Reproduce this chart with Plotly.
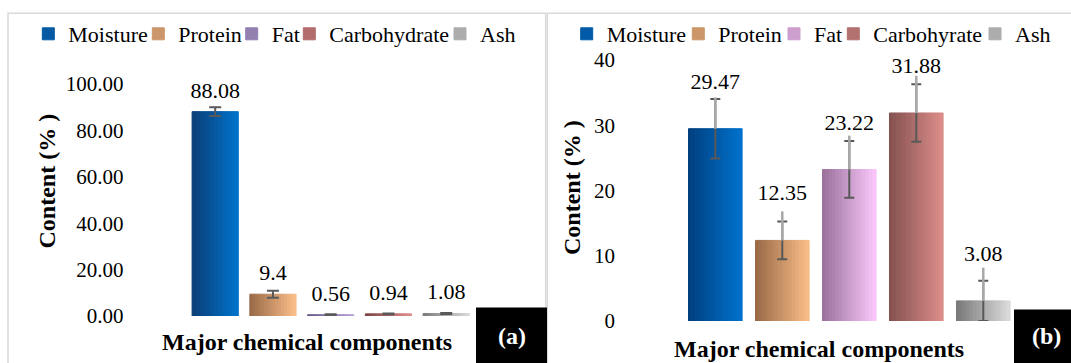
import plotly.graph_objects as go

W, H = 1071, 363

# ---------------- data ----------------
category = ["Major chemical components"]

components_a = ["Moisture", "Protein", "Fat", "Carbohydrate", "Ash"]
values_a = [88.08, 9.4, 0.56, 0.94, 1.08]
sd_a = [1.9, 1.5, 0.15, 0.15, 0.2]
labels_a = ["88.08", "9.4", "0.56", "0.94", "1.08"]
yticks_a = [0, 20, 40, 60, 80, 100]

components_b = ["Moisture", "Protein", "Fat", "Carbohyrate", "Ash"]
values_b = [29.47, 12.35, 23.22, 31.88, 3.08]
sd_b = [4.55, 2.9, 4.35, 4.4, 3.08]
sd_b_light_plus = [4.8, 4.45, 5.2, 5.7, 5.1]
labels_b = ["29.47", "12.35", "23.22", "31.88", "3.08"]
yticks_b = [0, 10, 20, 30, 40]

# ---------------- styles ----------------
grad_a = [("#0b3d75", "#0073cc"), ("#986846", "#fbbf8a"), ("#675885", "#b9a3d8"),
          ("#7a4545", "#e28e8c"), ("#7a7a7a", "#dadada")]
grad_b = [("#003e7e", "#0072cc"), ("#986846", "#fabe88"), ("#98709a", "#fcc8fc"),
          ("#83504e", "#dc8e8a"), ("#777777", "#dcdcdc")]
legend_text_x_a = [68.3, 178.3, 271.7, 329.3, 480.0]
legend_text_x_b = [606.7, 718.3, 814.0, 873.3, 1015.0]
N_SUB = 16      # colour steps used to imitate the horizontal gradient fill
N_SPACE = 2     # empty slots on each side of a bar (gap between bars)
FONT = "Liberation Serif"
ERR_DARK = "#595959"
ERR_LIGHT = "#a8a8a8"


def hex2rgb(h):
    h = h.lstrip("#")
    return tuple(int(h[i:i + 2], 16) for i in (0, 2, 4))


def mix(c0, c1, t):
    a, b = hex2rgb(c0), hex2rgb(c1)
    return "rgb(%d,%d,%d)" % tuple(round(a[i] + (b[i] - a[i]) * t) for i in range(3))


fig = go.Figure()
CLEAR = "rgba(0,0,0,0)"
NOLINE = dict(width=0)


def add_spacer(xa, ya):
    fig.add_trace(go.Bar(x=category, y=[0], marker=dict(color=CLEAR, line=NOLINE),
                         showlegend=False, hoverinfo="skip", xaxis=xa, yaxis=ya))


def add_gradient(names, values, grads, xa, ya, legend_ids):
    for i, (name, v) in enumerate(zip(names, values)):
        c0, c1 = grads[i]
        for _ in range(N_SPACE):
            add_spacer(xa, ya)
        for k in range(N_SUB):
            col = mix(c0, c1, (k + 0.5) / N_SUB)
            fig.add_trace(go.Bar(
                x=category, y=[v], name=name, legend=legend_ids[i],
                showlegend=(k == N_SUB // 2),
                marker=dict(color=col, line=dict(color=col, width=1)),
                xaxis=xa, yaxis=ya, hovertemplate=name + ": %{y}<extra></extra>"))
        for _ in range(N_SPACE):
            add_spacer(xa, ya)


def add_errors(values, plus, minus, color, thick, cap, xa, ya):
    for v, p, m in zip(values, plus, minus):
        fig.add_trace(go.Bar(
            x=category, y=[v], marker=dict(color=CLEAR, line=NOLINE),
            showlegend=False, hoverinfo="skip",
            error_y=dict(type="data", symmetric=False, array=[p], arrayminus=[m],
                         color=color, thickness=thick, width=cap),
            xaxis=xa, yaxis=ya))


def add_labels(values, labels, lift, xa, ya):
    for v, t in zip(values, labels):
        fig.add_trace(go.Bar(
            x=category, y=[lift], base=[v], text=[t], textposition="outside",
            textangle=0, constraintext="none", cliponaxis=False,
            textfont=dict(family=FONT, size=22, color="black"),
            marker=dict(color=CLEAR, line=NOLINE), showlegend=False, hoverinfo="skip",
            xaxis=xa, yaxis=ya))


leg_a = ["legend", "legend2", "legend3", "legend4", "legend5"]
leg_b = ["legend6", "legend7", "legend8", "legend9", "legend10"]

# panel (a)
add_gradient(components_a, values_a, grad_a, "x", "y", leg_a)
add_errors(values_a, sd_a, sd_a, ERR_DARK, 2, 6, "x3", "y3")
add_labels(values_a, labels_a, 2.6, "x5", "y5")
# panel (b)
add_gradient(components_b, values_b, grad_b, "x2", "y2", leg_b)
add_errors(values_b, sd_b, sd_b, ERR_DARK, 2, 5, "x4", "y4")
add_errors(values_b, sd_b_light_plus, [0] * 5, ERR_LIGHT, 2.5, 0, "x6", "y6")
add_labels(values_b, labels_b, 4.9, "x7", "y7")

dom_xa = [124.45 / W, 536.95 / W]
rng_xa = [-0.5, 0.5]
dom_ya = [(H - 316) / H, (H - 84) / H]
dom_xb = [616 / W, 1.0]
rng_xb = [-0.4875, 0.4633]
dom_yb = [(H - 321) / H, (H - 60) / H]

hidden_x = dict(showticklabels=False, showgrid=False, zeroline=False, showline=False, ticks="")
tickfont = dict(family=FONT, size=21, color="black")

layout = dict(
    template="none",
    width=W, height=H, margin=dict(l=0, r=0, t=0, b=0, autoexpand=False),
    paper_bgcolor="white", plot_bgcolor="rgba(0,0,0,0)",
    barmode="group", bargap=0.3, bargroupgap=0,
    font=dict(family=FONT, color="black"),
    xaxis=dict(domain=dom_xa, range=rng_xa, anchor="y", **hidden_x),
    yaxis=dict(domain=dom_ya, range=[0, 100], anchor="x", tickvals=yticks_a,
               tickformat=".2f", tickfont=tickfont, showgrid=False, zeroline=False,
               showline=False, ticks=""),
    xaxis2=dict(domain=dom_xb, range=rng_xb, anchor="y2", **hidden_x),
    yaxis2=dict(domain=dom_yb, range=[0, 40], anchor="x2", tickvals=yticks_b,
                tickfont=tickfont, showgrid=False, zeroline=False, showline=False, ticks=""),
)
for xa, ya, base_x, base_y, dx, rx, dy, ry in [
        ("xaxis3", "yaxis3", "x", "y", dom_xa, rng_xa, dom_ya, [0, 100]),
        ("xaxis5", "yaxis5", "x", "y", dom_xa, rng_xa, dom_ya, [0, 100]),
        ("xaxis4", "yaxis4", "x2", "y2", dom_xb, rng_xb, dom_yb, [0, 40]),
        ("xaxis6", "yaxis6", "x2", "y2", dom_xb, rng_xb, dom_yb, [0, 40]),
        ("xaxis7", "yaxis7", "x2", "y2", dom_xb, rng_xb, dom_yb, [0, 40])]:
    layout[xa] = dict(domain=dx, range=rx, overlaying=base_x, visible=False)
    layout[ya] = dict(domain=dy, range=ry, overlaying=base_y, visible=False)

legfont = dict(family=FONT, size=22, color="black")
for lid, tx in zip(leg_a + leg_b, legend_text_x_a + legend_text_x_b):
    layout[lid] = dict(x=(tx - 40) / W, xanchor="left", y=1 - 34 / H, yanchor="middle",
                       orientation="h", bgcolor=CLEAR, font=legfont, borderwidth=0,
                       itemclick=False, itemdoubleclick=False)

fig.update_layout(**layout)

# panel frames and tag boxes
frame = dict(color="#d9d9d9", width=1.5)
fig.add_shape(type="rect", xref="paper", yref="paper", x0=8 / W, x1=545.7 / W,
              y0=-10 / H, y1=1 - 13.3 / H, line=frame, fillcolor=CLEAR, layer="below")
fig.add_shape(type="rect", xref="paper", yref="paper", x0=547.3 / W, x1=1090 / W,
              y0=-10 / H, y1=1 - 13.3 / H, line=frame, fillcolor=CLEAR, layer="below")
fig.add_shape(type="rect", xref="paper", yref="paper", x0=476 / W, x1=547 / W,
              y0=0, y1=1 - 307.5 / H, line_width=0, fillcolor="black")
fig.add_shape(type="rect", xref="paper", yref="paper", x0=1014 / W, x1=1.0,
              y0=0, y1=1 - 309.5 / H, line_width=0, fillcolor="black")


def ann(text, x, y, angle=0, color="black", size=24):
    fig.add_annotation(text=text, xref="paper", yref="paper", x=x / W, y=1 - y / H,
                       xanchor="center", yanchor="middle", showarrow=False,
                       textangle=angle, font=dict(family=FONT, size=size, color=color))


ann("<b>Content (% )</b>", 46.5, 181, angle=-90)
ann("<b>Content (% )</b>", 572, 188, angle=-90)
ann("<b>" + category[0] + "</b>", 306.5, 342)
ann("<b>" + category[0] + "</b>", 818.5, 349)
ann("<b>(a)</b>", 511.5, 336, color="white")
ann("<b>(b)</b>", 1046, 336, color="white")

fig.write_html("out.html", config={"displayModeBar": False},
               post_script="document.body.style.margin='0';document.body.style.overflow='hidden';")
